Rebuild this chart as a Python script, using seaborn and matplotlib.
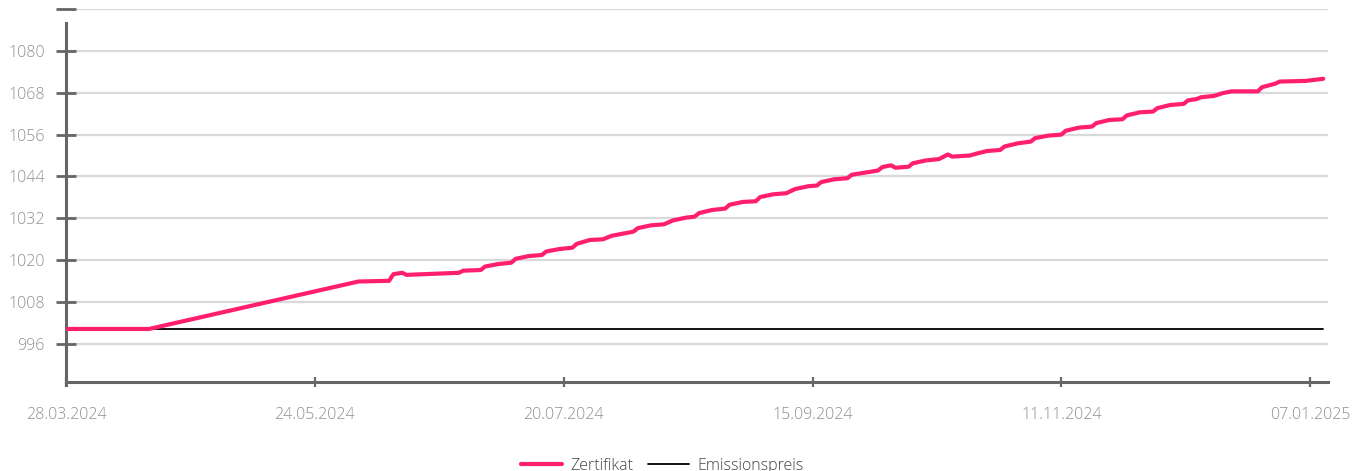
import numpy as np
import pandas as pd
import matplotlib
matplotlib.use("Agg")
import matplotlib.pyplot as plt
import matplotlib.dates as mdates
import seaborn as sns

# Zertifikat series
zert_dates = [
    "2024-03-28", "2024-04-16", "2024-06-03", "2024-06-10", "2024-06-11",
    "2024-06-13", "2024-06-14", "2024-06-26", "2024-06-27", "2024-07-01",
    "2024-07-02", "2024-07-05", "2024-07-08", "2024-07-09", "2024-07-12",
    "2024-07-15", "2024-07-16", "2024-07-19", "2024-07-22", "2024-07-23",
    "2024-07-26", "2024-07-29", "2024-07-31", "2024-08-05", "2024-08-06",
    "2024-08-09", "2024-08-12", "2024-08-14", "2024-08-17", "2024-08-19",
    "2024-08-20", "2024-08-23", "2024-08-26", "2024-08-27", "2024-08-30",
    "2024-09-02", "2024-09-03", "2024-09-06", "2024-09-09", "2024-09-11",
    "2024-09-14", "2024-09-16", "2024-09-17", "2024-09-20", "2024-09-23",
    "2024-09-24", "2024-09-27", "2024-09-30", "2024-10-01", "2024-10-03",
    "2024-10-04", "2024-10-07", "2024-10-08", "2024-10-11", "2024-10-14",
    "2024-10-16", "2024-10-17", "2024-10-21", "2024-10-23", "2024-10-25",
    "2024-10-28", "2024-10-29", "2024-11-01", "2024-11-04", "2024-11-05",
    "2024-11-08", "2024-11-11", "2024-11-12", "2024-11-15", "2024-11-18",
    "2024-11-19", "2024-11-22", "2024-11-25", "2024-11-26", "2024-11-29",
    "2024-12-02", "2024-12-03", "2024-12-06", "2024-12-09", "2024-12-10",
    "2024-12-12", "2024-12-13", "2024-12-16", "2024-12-18", "2024-12-20",
    "2024-12-26", "2024-12-27", "2024-12-30", "2024-12-31", "2025-01-06",
    "2025-01-08", "2025-01-10",
]
zert_values = [
    1000.3, 1000.3, 1013.9, 1014.1, 1016.0,
    1016.4, 1015.8, 1016.4, 1017.0, 1017.2,
    1018.2, 1018.9, 1019.3, 1020.4, 1021.2,
    1021.5, 1022.5, 1023.2, 1023.6, 1024.7,
    1025.8, 1026.0, 1027.0, 1028.2, 1029.2,
    1030.0, 1030.3, 1031.4, 1032.2, 1032.5,
    1033.5, 1034.4, 1034.8, 1035.9, 1036.7,
    1036.9, 1038.1, 1038.9, 1039.2, 1040.4,
    1041.2, 1041.4, 1042.4, 1043.2, 1043.5,
    1044.5, 1045.1, 1045.7, 1046.7, 1047.2,
    1046.5, 1046.8, 1047.8, 1048.6, 1049.0,
    1050.3, 1049.7, 1050.0, 1050.7, 1051.3,
    1051.6, 1052.6, 1053.5, 1054.0, 1055.0,
    1055.7, 1056.0, 1057.1, 1058.0, 1058.3,
    1059.3, 1060.2, 1060.4, 1061.5, 1062.4,
    1062.6, 1063.6, 1064.5, 1064.8, 1065.8,
    1066.2, 1066.7, 1067.1, 1067.9, 1068.4,
    1068.4, 1069.6, 1070.6, 1071.2, 1071.4,
    1071.7, 1072.0,
]

# Emissionspreis (flat)
emis_dates = ["2024-03-28", "2025-01-10"]
emis_values = [1000.3, 1000.3]

y_ticks = [996, 1008, 1020, 1032, 1044, 1056, 1068, 1080, 1092]
y_labels = ["996", "1008", "1020", "1032", "1044", "1056", "1068", "1080", ""]
x_ticks = ["2024-03-28", "2024-05-24", "2024-07-20", "2024-09-15",
           "2024-11-11", "2025-01-07"]

zert = pd.DataFrame({"date": pd.to_datetime(zert_dates), "value": zert_values})
emis = pd.DataFrame({"date": pd.to_datetime(emis_dates), "value": emis_values})

sns.set_style("white")
plt.rcParams["font.family"] = ["Open Sans", "DejaVu Sans"]

PINK = "#ff1f6e"
AXIS = "#666666"
LABEL = "#8f8f8f"

fig = plt.figure(figsize=(13.54, 4.71), dpi=100)
ax = fig.add_axes([66 / 1354, 1 - 382 / 471, (1328 - 66) / 1354, (382 - 9) / 471])

sns.lineplot(data=emis, x="date", y="value", ax=ax, color="black",
             linewidth=1.3, label="Emissionspreis", zorder=3)
sns.lineplot(data=zert, x="date", y="value", ax=ax, color=PINK,
             linewidth=3.0, label="Zertifikat", zorder=4,
             solid_joinstyle="round", solid_capstyle="round")

ax.set_xlim(pd.Timestamp("2024-03-28"), pd.Timestamp("2025-01-11 02:00"))
ax.set_ylim(985.1, 1092)

ax.set_yticks(y_ticks)
ax.set_yticklabels(y_labels)
ax.set_xticks(pd.to_datetime(x_ticks))
ax.xaxis.set_major_formatter(mdates.DateFormatter("%d.%m.%Y"))

ax.yaxis.grid(True, color="#d9d9d9", linewidth=1.6)
ax.xaxis.grid(False)
ax.set_axisbelow(True)

for side in ["top", "right"]:
    ax.spines[side].set_visible(False)
for side in ["left", "bottom"]:
    ax.spines[side].set_color(AXIS)
    ax.spines[side].set_linewidth(2.2)
ax.spines["left"].set_bounds(984.3, 1088)

ax.tick_params(axis="y", left=True, direction="inout", length=14.5, width=2.0,
               color=AXIS, labelcolor=LABEL, labelsize=11.5, pad=8)
ax.tick_params(axis="x", bottom=True, direction="inout", length=7.5, width=1.6,
               color=AXIS, labelcolor=LABEL, labelsize=11.5, pad=14)
for lbl in ax.get_xticklabels() + ax.get_yticklabels():
    lbl.set_fontweight("light")

ax.set_xlabel("")
ax.set_ylabel("")

handles, labels = ax.get_legend_handles_labels()
order = [labels.index("Zertifikat"), labels.index("Emissionspreis")]
ax.get_legend().remove()
leg = fig.legend([handles[i] for i in order], [labels[i] for i in order],
                 loc="lower center", bbox_to_anchor=(0.489, -0.036), ncol=2,
                 frameon=False, fontsize=11.5, handlelength=2.6,
                 columnspacing=0.9, handletextpad=0.5)
for t in leg.get_texts():
    t.set_color("#444444")
    t.set_fontweight("light")

fig.savefig("out.png", dpi=100)
